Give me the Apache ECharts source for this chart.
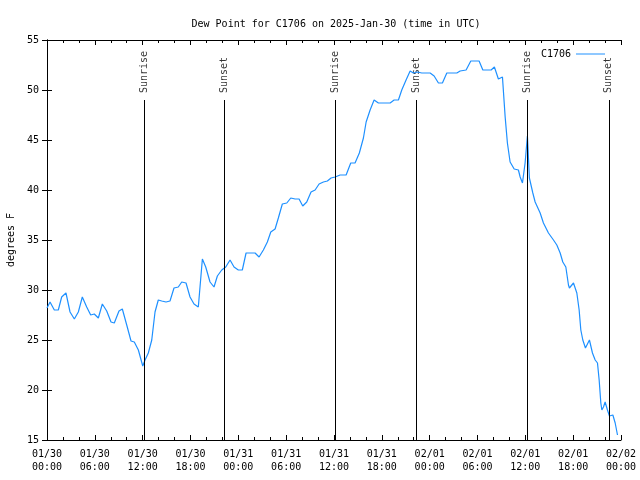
<!DOCTYPE html>
<html>
<head>
<meta charset="utf-8">
<script src="https://cdn.jsdelivr.net/npm/echarts@6/dist/echarts.min.js"></script>
<style>html,body{margin:0;padding:0;background:#fff}#c{width:640px;height:480px}</style>
</head>
<body>
<div id="c"></div>
<script>
// hours since 2025-01-30 00:00 UTC
const hours = [0,0.38,0.92,1.42,1.84,2.38,2.89,3.43,3.93,4.43,4.98,5.48,5.93,6.44,6.94,7.49,8.03,8.44,9.03,9.45,10.0,10.54,10.95,11.46,12.01,12.3,12.71,13.14,13.55,13.96,14.39,14.93,15.43,15.93,16.47,16.9,17.44,17.94,18.44,18.98,19.49,19.91,20.45,20.95,21.37,21.92,22.42,22.96,23.46,24.0,24.5,24.97,25.56,26.1,26.6,27.14,27.64,28.07,28.61,29.02,29.52,30.08,30.58,31.12,31.62,32.08,32.58,33.12,33.63,34.13,34.67,35.17,35.63,36.14,36.76,37.52,38.1,38.64,39.18,39.69,40.03,40.53,41.03,41.57,42.2,43.04,43.54,44.08,44.5,45.04,45.55,45.96,46.46,47.01,47.55,48.06,48.56,49.1,49.6,50.15,50.78,51.41,51.82,52.57,53.16,53.7,54.2,54.67,55.17,55.71,56.12,56.62,57.13,57.47,57.75,58.09,58.6,59.13,59.35,59.64,59.97,60.26,60.51,60.94,61.23,61.86,62.27,62.9,63.53,63.95,64.37,64.7,65.08,65.41,65.53,66.04,66.46,66.75,66.96,67.21,67.54,68.04,68.42,68.76,69.05,69.26,69.47,69.6,69.8,70.01,70.3,70.55,70.98,71.27,71.56];
const dewF = [28.2,28.8,28.0,28.0,29.3,29.7,27.8,27.1,27.8,29.3,28.3,27.5,27.6,27.2,28.6,27.9,26.8,26.7,27.9,28.1,26.5,24.9,24.8,24.0,22.4,23.0,23.7,25.0,27.8,29.0,28.9,28.8,28.9,30.2,30.3,30.8,30.7,29.3,28.6,28.3,33.1,32.3,30.8,30.3,31.4,32.0,32.3,33.0,32.3,32.0,32.0,33.7,33.7,33.7,33.3,34.0,34.8,35.8,36.1,37.2,38.6,38.7,39.2,39.1,39.1,38.4,38.8,39.8,40.0,40.6,40.8,40.9,41.2,41.3,41.5,41.5,42.7,42.7,43.7,45.2,46.8,48.0,49.0,48.7,48.7,48.7,49.0,49.0,50.0,51.0,51.9,51.7,51.8,51.7,51.7,51.7,51.4,50.7,50.7,51.7,51.7,51.7,51.9,52.0,52.9,52.9,52.9,52.0,52.0,52.0,52.3,51.1,51.3,47.3,44.7,42.8,42.1,42.0,41.3,40.7,42.7,45.4,41.2,39.7,38.8,37.7,36.7,35.7,35.0,34.5,33.7,32.8,32.3,30.5,30.2,30.7,29.7,28.0,26.0,25.0,24.2,25.0,23.7,23.0,22.7,21.0,18.7,18.0,18.3,18.8,18.0,17.4,17.5,16.7,15.5];
const sunHours = [12.17,22.25,36.18,46.34,60.27,70.47];
const sunLabels = ['Sunrise','Sunset','Sunrise','Sunset','Sunrise','Sunset'];
const xTickLabels = ['01/30\n00:00','01/30\n06:00','01/30\n12:00','01/30\n18:00','01/31\n00:00','01/31\n06:00','01/31\n12:00','01/31\n18:00','02/01\n00:00','02/01\n06:00','02/01\n12:00','02/01\n18:00','02/02\n00:00'];
const seriesName = 'C1706';

const FONT = 'DejaVu Sans Mono';
const FS = 10;
const chart = echarts.init(document.getElementById('c'), null, {renderer:'canvas'});
const axisCommonX = {
  type:'value', min:0, max:72, interval:6,
  axisLine:{show:true, lineStyle:{color:'#000', width:1}},
  axisTick:{show:true, inside:true, length:5, lineStyle:{color:'#000'}},
  minorTick:{show:true, splitNumber:3, length:3, lineStyle:{color:'#000'}},
  splitLine:{show:false}, minorSplitLine:{show:false}
};
const axisCommonY = {
  type:'value', min:15, max:55, interval:5,
  axisLine:{show:true, lineStyle:{color:'#000', width:1}},
  axisTick:{show:true, inside:true, length:5, lineStyle:{color:'#000'}},
  splitLine:{show:false}
};
chart.setOption({
  animation:false,
  backgroundColor:'#fff',
  title:{text:'Dew Point for C1706 on 2025-Jan-30 (time in UTC)', left:331, textAlign:'center', top:14,
    textStyle:{fontFamily:FONT, fontSize:FS, fontWeight:'normal', color:'#000'}},
  legend:{data:[seriesName], right:30, top:44, align:'right', icon:'rect', itemWidth:29, itemHeight:1, itemGap:7,
    textStyle:{fontFamily:FONT, fontSize:FS, color:'#000'}},
  grid:{left:47, right:19, top:40, bottom:40, containLabel:false, outerBoundsMode:'none'},
  xAxis:[
    Object.assign({}, axisCommonX, {position:'bottom',
      axisLabel:{fontFamily:FONT, fontSize:FS, color:'#000', margin:8, lineHeight:13,
        formatter:v => xTickLabels[Math.round(v/6)]}}),
    Object.assign({}, axisCommonX, {position:'top', axisLabel:{show:false}})
  ],
  yAxis:[
    Object.assign({}, axisCommonY, {position:'left', name:'degrees F', nameLocation:'middle', nameGap:31,
      nameTextStyle:{fontFamily:FONT, fontSize:FS, color:'#000'},
      axisLabel:{fontFamily:FONT, fontSize:FS, color:'#000', margin:8}}),
    Object.assign({}, axisCommonY, {position:'right', axisLabel:{show:false}})
  ],
  series:[
    {name:seriesName, type:'line', data:hours.map((h,i)=>[h,dewF[i]]), symbol:'none', showSymbol:false,
      color:'#1e90ff', lineStyle:{width:1.2, color:'#1e90ff'}, z:3},
    {name:'sun', type:'scatter', data:sunHours.map(h=>[h,49]), symbolSize:0, silent:true,
      label:{show:true, formatter:p => sunLabels[p.dataIndex], position:'top', distance:7, rotate:90,
        align:'left', verticalAlign:'middle', fontFamily:FONT, fontSize:FS, color:'#000'},
      markLine:{silent:true, symbol:['none','none'], label:{show:false},
        lineStyle:{color:'#000', width:1, type:'solid'},
        data:sunHours.map(h=>[{coord:[h,15]},{coord:[h,49]}])}, z:2}
  ]
});
</script>
</body>
</html>
